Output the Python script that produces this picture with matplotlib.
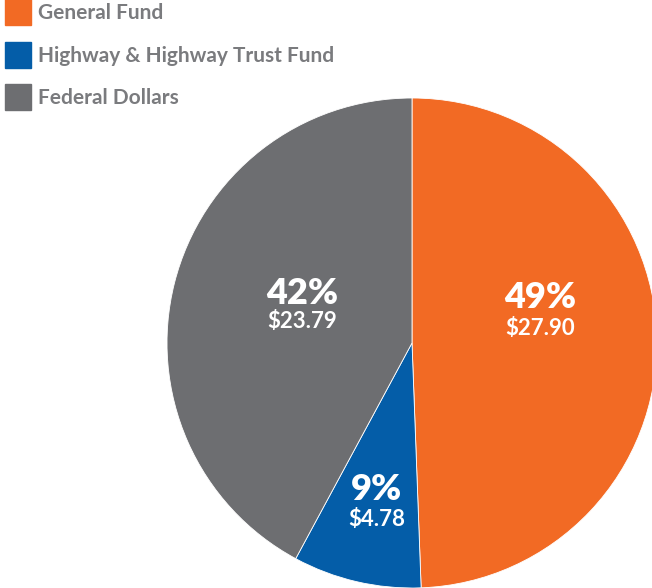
import matplotlib.pyplot as plt
from matplotlib.patches import Rectangle

# Funding sources (in millions)
sources = ['General Fund', 'Highway & Highway Trust Fund', 'Federal Dollars']
amounts = [27.90, 4.78, 23.79]
percents = [49, 9, 42]
colors = ['#F26A24', '#045DA8', '#6D6E71']

plt.rcParams['font.family'] = ['Lato', 'DejaVu Sans']

W, H = 652, 588
fig = plt.figure(figsize=(W / 100, H / 100), dpi=100)
# pie axes sized so the circle runs past the right/bottom edge
ax = fig.add_axes([167 / W, 0.0, 490 / W, 490 / H])

wedges, _ = ax.pie(amounts, colors=colors, startangle=90, counterclock=False,
                   radius=1.0, wedgeprops=dict(edgecolor='white', linewidth=0.6))
ax.set_xlim(-1, 1)
ax.set_ylim(-1, 1)
ax.set_aspect('equal')
ax.axis('off')

label_pos = [(0.522, 0.184, 0.061), (-0.143, -0.60, -0.722), (-0.449, 0.204, 0.086)]
for amt, pct, (x, y1, y2) in zip(amounts, percents, label_pos):
    ax.text(x, y1, f'{pct}%', ha='center', va='center',
            color='white', fontsize=26, fontweight='heavy')
    ax.text(x, y2, f'${amt:.2f}', ha='center', va='center',
            color='white', fontsize=16, fontweight='bold')

# legend drawn by hand: square swatch + grey label per row
for i, (name, c) in enumerate(zip(sources, colors)):
    top = -1 + i * 42.7
    fig.patches.append(Rectangle((5 / W, 1 - (top + 26) / H), 26 / W, 26 / H,
                                 transform=fig.transFigure, color=c))
    fig.text(38 / W, 1 - (top + 14) / H, name, ha='left', va='center',
             fontsize=15, fontweight='bold', color='#7A7B7E')

fig.savefig('out.png', dpi=100)
